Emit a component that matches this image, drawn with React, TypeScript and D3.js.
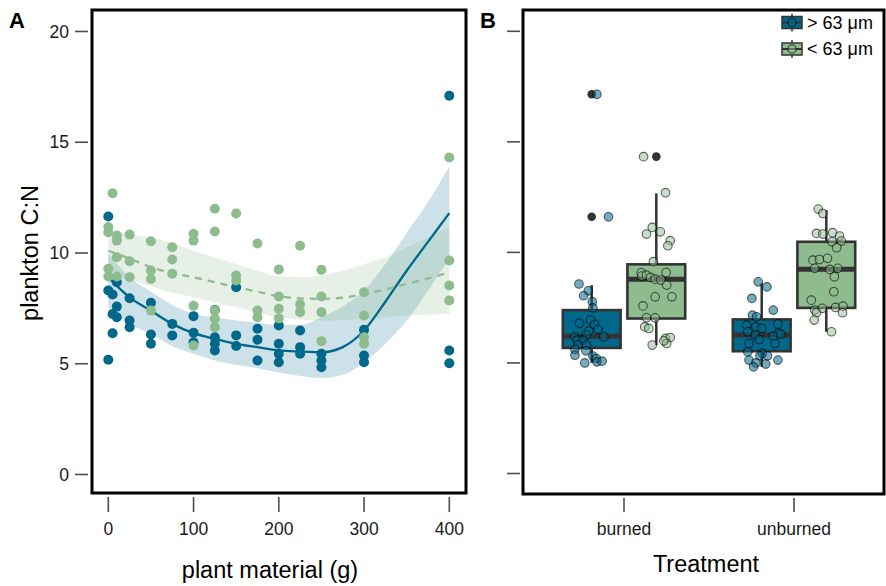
import React from 'react';
import * as d3 from 'd3';

const W = 886;
const H = 586;
const BLUE = '#00688B';
const GREEN = '#8FBC8F';
const FONT = '"Liberation Sans", Arial, Helvetica, sans-serif';

// ---------- Panel A : points ----------
const plantBlue = [0, 0, 0, 5, 5, 5, 10, 10, 10, 25, 25, 25, 50, 50, 50, 75, 75, 100, 100, 100, 125, 125, 125, 125, 150, 150, 150, 175, 175, 175, 200, 200, 200, 200, 225, 225, 225, 250, 250, 250, 300, 300, 300, 400, 400, 400];
const cnBlue = [11.65, 8.31, 5.18, 8.13, 7.25, 6.38, 8.68, 7.58, 7.1, 7.96, 6.95, 6.65, 7.75, 6.32, 5.9, 6.8, 6.28, 7.15, 6.4, 5.97, 7.43, 6.2, 5.9, 5.6, 8.45, 6.28, 5.8, 6.58, 6.08, 5.15, 6.73, 5.9, 5.45, 5.07, 6.5, 5.75, 5.45, 5.45, 5.15, 4.84, 6.53, 5.37, 5.07, 17.1, 5.6, 5.02];

const plantGreen = [0, 0, 0, 0, 5, 10, 10, 10, 10, 25, 25, 25, 50, 50, 50, 50, 75, 75, 75, 100, 100, 100, 100, 125, 125, 125, 125, 125, 150, 150, 150, 175, 175, 175, 200, 200, 200, 200, 225, 225, 225, 250, 250, 250, 250, 300, 300, 300, 300, 400, 400, 400, 400];
const cnGreen = [11.17, 10.94, 9.29, 8.94, 12.7, 10.79, 10.56, 9.81, 8.94, 10.83, 9.63, 8.91, 10.53, 9.21, 8.83, 7.4, 10.26, 9.71, 9.06, 10.87, 10.56, 7.62, 5.82, 12.0, 10.97, 7.4, 7.03, 6.65, 11.78, 8.98, 8.76, 10.43, 7.4, 7.1, 9.26, 8.04, 7.48, 7.05, 10.33, 7.68, 7.33, 9.24, 8.04, 7.33, 6.02, 8.23, 7.18, 6.2, 5.9, 14.31, 9.66, 8.53, 7.86];

// ---------- Panel A : fitted curves ----------
const fitPlant = [0, 25, 50, 75, 100, 125, 150, 175, 200, 225, 250, 275, 300, 325, 350, 375, 400];
const fitBlue = [8.9, 8.0, 7.4, 6.8, 6.38, 6.12, 5.9, 5.75, 5.6, 5.55, 5.52, 5.75, 6.5, 7.8, 9.2, 10.5, 11.8];
const fitBlueLo = [7.55, 6.8, 6.35, 5.8, 5.45, 5.15, 4.95, 4.8, 4.6, 4.45, 4.35, 4.5, 5.05, 5.9, 6.95, 8.3, 9.75];
const fitBlueHi = [10.0, 8.9, 8.25, 7.65, 7.25, 7.1, 6.95, 6.85, 6.75, 6.75, 7.1, 7.6, 8.3, 9.5, 10.9, 12.3, 13.9];
const fitGreen = [10.1, 9.75, 9.36, 9.1, 8.9, 8.68, 8.46, 8.25, 8.05, 7.95, 7.93, 7.98, 8.16, 8.35, 8.6, 8.85, 9.13];
const fitGreenLo = [9.2, 8.8, 8.5, 8.2, 8.0, 7.75, 7.55, 7.3, 7.1, 7.0, 6.95, 6.98, 7.03, 7.1, 7.18, 7.22, 7.25];
const fitGreenHi = [10.95, 10.85, 10.7, 10.45, 10.1, 9.8, 9.5, 9.2, 8.95, 8.9, 9.0, 9.2, 9.5, 9.8, 10.25, 10.7, 11.2];

const xTicksA = [0, 100, 200, 300, 400];
const yTicks = [0, 5, 10, 15, 20];

// ---------- Panel B : boxplots ----------
const treatments = ['burned', 'unburned'];
const fractions = ['> 63 μm', '< 63 μm'];
const fracColors = [BLUE, GREEN];

const boxTreatment = ['burned', 'burned', 'unburned', 'unburned'];
const boxFraction = ['> 63 μm', '< 63 μm', '> 63 μm', '< 63 μm'];
const boxLower = [5.0, 5.81, 4.82, 6.41];
const boxQ1 = [5.68, 7.01, 5.53, 7.49];
const boxMedian = [6.21, 8.79, 6.26, 9.24];
const boxQ3 = [7.39, 9.46, 6.97, 10.48];
const boxUpper = [8.52, 12.67, 8.6, 11.91];

const outTreatment = ['burned', 'burned', 'burned'];
const outFraction = ['> 63 μm', '> 63 μm', '< 63 μm'];
const outValue = [17.15, 11.61, 14.33];

// jittered observations per group (value, horizontal jitter as fraction of box width)
const jitBurnedBlueVal = [17.15, 11.61, 8.57, 8.26, 8.04, 7.77, 7.49, 6.94, 6.79, 6.74, 6.52, 6.45, 6.26, 6.18, 6.18, 6.03, 6.03, 5.81, 5.81, 5.61, 5.55, 5.35, 5.31, 5.2, 5.0, 5.05, 5.08];
const jitBurnedBlueOff = [0.09, 0.29, -0.22, -0.06, -0.14, 0.01, 0.02, -0.02, -0.21, 0.05, 0.11, -0.05, -0.09, 0.21, -0.29, -0.25, -0.15, -0.24, -0.09, -0.29, -0.1, -0.29, 0.02, 0.08, -0.12, 0.09, 0.18];
const jitBurnedGreenVal = [14.33, 12.7, 11.13, 10.83, 10.93, 10.53, 10.3, 9.58, 9.08, 8.93, 8.97, 8.87, 8.79, 8.75, 9.09, 8.52, 7.99, 7.99, 7.58, 7.04, 7.04, 6.63, 6.56, 6.11, 6.15, 5.88, 5.81, 6.0];
const jitBurnedGreenOff = [-0.22, 0.16, -0.07, -0.17, 0.07, 0.24, 0.2, -0.05, -0.26, -0.25, -0.17, -0.1, -0.02, 0.08, 0.17, 0.18, -0.02, 0.27, -0.23, -0.17, -0.02, -0.2, -0.13, 0.16, 0.24, 0.18, -0.07, 0.13];
const jitUnburnedBlueVal = [8.67, 8.44, 7.92, 7.39, 7.16, 7.09, 6.71, 6.76, 6.63, 6.56, 6.41, 6.36, 6.26, 6.21, 6.3, 6.06, 5.88, 5.88, 5.5, 5.43, 5.32, 5.32, 5.13, 5.13, 5.0, 4.95, 4.82];
const jitUnburnedBlueOff = [-0.06, 0.09, -0.17, 0.2, -0.16, -0.09, -0.26, 0.28, -0.1, 0.0, -0.24, 0.29, -0.11, 0.2, 0.33, -0.04, 0.23, -0.22, -0.24, 0.01, 0.1, -0.03, -0.22, 0.28, -0.1, 0.07, -0.14];
const jitUnburnedGreenVal = [11.96, 11.76, 10.86, 10.83, 10.89, 10.74, 10.48, 10.51, 10.21, 9.65, 9.68, 9.73, 9.28, 9.23, 9.28, 8.9, 8.22, 7.84, 7.39, 7.47, 7.51, 7.57, 7.27, 7.27, 6.94, 6.41];
const jitUnburnedGreenOff = [-0.14, -0.06, -0.17, -0.06, 0.11, 0.23, 0.1, 0.26, 0.18, -0.23, -0.12, 0.02, -0.2, 0.06, 0.2, 0.14, 0.13, -0.26, -0.2, -0.07, 0.16, 0.29, 0.28, -0.17, -0.21, 0.09];

const jitGroups = [
  { t: 'burned', f: '> 63 μm', val: jitBurnedBlueVal, off: jitBurnedBlueOff },
  { t: 'burned', f: '< 63 μm', val: jitBurnedGreenVal, off: jitBurnedGreenOff },
  { t: 'unburned', f: '> 63 μm', val: jitUnburnedBlueVal, off: jitUnburnedBlueOff },
  { t: 'unburned', f: '< 63 μm', val: jitUnburnedGreenVal, off: jitUnburnedGreenOff },
];

export default function App() {
  const A = { l: 92, r: 466, t: 10, b: 493 };
  const B = { l: 523, r: 884, t: 10, b: 494 };

  const xA = d3.scaleLinear().domain([0, 400]).range([108.3, 449.3]);
  const yA = d3.scaleLinear().domain([0, 20]).range([474.5, 31.5]);
  const yB = d3.scaleLinear().domain([0, 20]).range([473.5, 31.3]);
  const xB = d3.scaleBand().domain(treatments).range([539, 879]).padding(0);
  const step = xB.bandwidth();
  const dodge = d3.scaleOrdinal<string, number>().domain(fractions).range([-0.19 * step, 0.19 * step]);
  const color = d3.scaleOrdinal<string, string>().domain(fractions).range(fracColors);
  const boxW = 0.34 * step;
  const cx = (t: string, f: string) => (xB(t) as number) + step / 2 + dodge(f);

  const idx = fitPlant.map((_, i) => i);
  const area = (lo: number[], hi: number[]) =>
    d3.area<number>().x(i => xA(fitPlant[i])).y0(i => yA(lo[i])).y1(i => yA(hi[i])).curve(d3.curveMonotoneX)(idx) || '';
  const line = (v: number[]) =>
    d3.line<number>().x(i => xA(fitPlant[i])).y(i => yA(v[i])).curve(d3.curveMonotoneX)(idx) || '';

  const tickCol = '#4d4d4d';
  const labCol = '#1a1a1a';
  const tickFs = 17.5;
  const titleFs = 23.5;

  return (
    <svg width={W} height={H} style={{ position: 'absolute', left: 0, top: 0, background: '#fff' }} fontFamily={FONT}>
      <rect x={0} y={0} width={W} height={H} fill="#fff" />
      {/* ===== Panel A ===== */}
      <text x={9} y={28} fontSize={22} fontWeight="bold" fill="#000">A</text>
      <path d={area(fitBlueLo, fitBlueHi)} fill={BLUE} fillOpacity={0.2} />
      <path d={area(fitGreenLo, fitGreenHi)} fill={GREEN} fillOpacity={0.22} />
      <path d={line(fitBlue)} fill="none" stroke={BLUE} strokeWidth={2.3} />
      <path d={line(fitGreen)} fill="none" stroke={GREEN} strokeWidth={2.3} strokeDasharray="7,6" />
      {plantBlue.map((g, i) => (
        <circle key={'b' + i} cx={xA(g)} cy={yA(cnBlue[i])} r={5} fill={BLUE} />
      ))}
      {plantGreen.map((g, i) => (
        <circle key={'g' + i} cx={xA(g)} cy={yA(cnGreen[i])} r={5} fill={GREEN} />
      ))}
      <rect x={A.l} y={A.t} width={A.r - A.l} height={A.b - A.t} fill="none" stroke="#000" strokeWidth={3} />
      {yTicks.map(v => (
        <g key={'ya' + v}>
          <line x1={75} x2={88} y1={yA(v)} y2={yA(v)} stroke={tickCol} strokeWidth={1.6} />
          <text x={69} y={yA(v)} dy="0.35em" textAnchor="end" fontSize={tickFs} fill={labCol}>{v}</text>
        </g>
      ))}
      {xTicksA.map(v => (
        <g key={'xa' + v}>
          <line x1={xA(v)} x2={xA(v)} y1={497} y2={512} stroke={tickCol} strokeWidth={1.6} />
          <text x={xA(v)} y={535} textAnchor="middle" fontSize={tickFs} fill={labCol}>{v}</text>
        </g>
      ))}
      <text x={270} y={578} textAnchor="middle" fontSize={titleFs} fill="#000">plant material (g)</text>
      <text transform={`translate(38,${253}) rotate(-90)`} textAnchor="middle" fontSize={titleFs} fill="#000">plankton C:N</text>

      {/* ===== Panel B ===== */}
      <text x={480} y={28} fontSize={22} fontWeight="bold" fill="#000">B</text>
      {boxTreatment.map((t, i) => {
        const c = cx(t, boxFraction[i]);
        return (
          <g key={'box' + i}>
            <line x1={c} x2={c} y1={yB(boxUpper[i])} y2={yB(boxQ3[i])} stroke="#333" strokeWidth={2.5} />
            <line x1={c} x2={c} y1={yB(boxQ1[i])} y2={yB(boxLower[i])} stroke="#333" strokeWidth={2.5} />
            <rect x={c - boxW / 2} y={yB(boxQ3[i])} width={boxW} height={yB(boxQ1[i]) - yB(boxQ3[i])}
              fill={color(boxFraction[i])} stroke="#333" strokeWidth={2.6} />
            <line x1={c - boxW / 2} x2={c + boxW / 2} y1={yB(boxMedian[i])} y2={yB(boxMedian[i])} stroke="#333" strokeWidth={5} />
          </g>
        );
      })}
      {outTreatment.map((t, i) => (
        <circle key={'out' + i} cx={cx(t, outFraction[i])} cy={yB(outValue[i])} r={4.3} fill="#333" />
      ))}
      {jitGroups.map((gr, gi) =>
        gr.val.map((v, i) => (
          <circle key={'j' + gi + '-' + i} cx={cx(gr.t, gr.f) + gr.off[i] * boxW} cy={yB(v)} r={4.3}
            fill={color(gr.f)} fillOpacity={gr.f === '> 63 μm' ? 0.55 : 0.5}
            stroke="#000" strokeOpacity={0.6} strokeWidth={1.1} />
        ))
      )}
      <rect x={B.l} y={B.t} width={B.r - B.l} height={B.b - B.t} fill="none" stroke="#000" strokeWidth={3} />
      {yTicks.map(v => (
        <line key={'yb' + v} x1={507} x2={520} y1={yB(v)} y2={yB(v)} stroke={tickCol} strokeWidth={1.6} />
      ))}
      {treatments.map(t => (
        <g key={'xb' + t}>
          <line x1={(xB(t) as number) + step / 2} x2={(xB(t) as number) + step / 2} y1={498} y2={512} stroke={tickCol} strokeWidth={1.6} />
          <text x={(xB(t) as number) + step / 2} y={535} textAnchor="middle" fontSize={tickFs} fill={labCol}>{t}</text>
        </g>
      ))}
      <text x={706} y={572} textAnchor="middle" fontSize={titleFs} fill="#000">Treatment</text>

      {/* legend */}
      {fractions.map((f, i) => {
        const ky = 22.5 + i * 26.5;
        const kx = 792;
        return (
          <g key={'leg' + f}>
            <line x1={kx} x2={kx} y1={ky - 9} y2={ky + 9} stroke="#333" strokeWidth={1.5} />
            <rect x={kx - 10} y={ky - 6} width={20} height={12} fill={color(f)} stroke="#333" strokeWidth={1.5} />
            <line x1={kx - 10} x2={kx + 10} y1={ky} y2={ky} stroke="#333" strokeWidth={2} />
            <circle cx={kx} cy={ky} r={4.2} fill={color(f)} fillOpacity={0.5} stroke="#000" strokeOpacity={0.7} strokeWidth={1.1} />
            <text x={807} y={ky} dy="0.35em" fontSize={18} fill="#000">{f}</text>
          </g>
        );
      })}
    </svg>
  );
}
